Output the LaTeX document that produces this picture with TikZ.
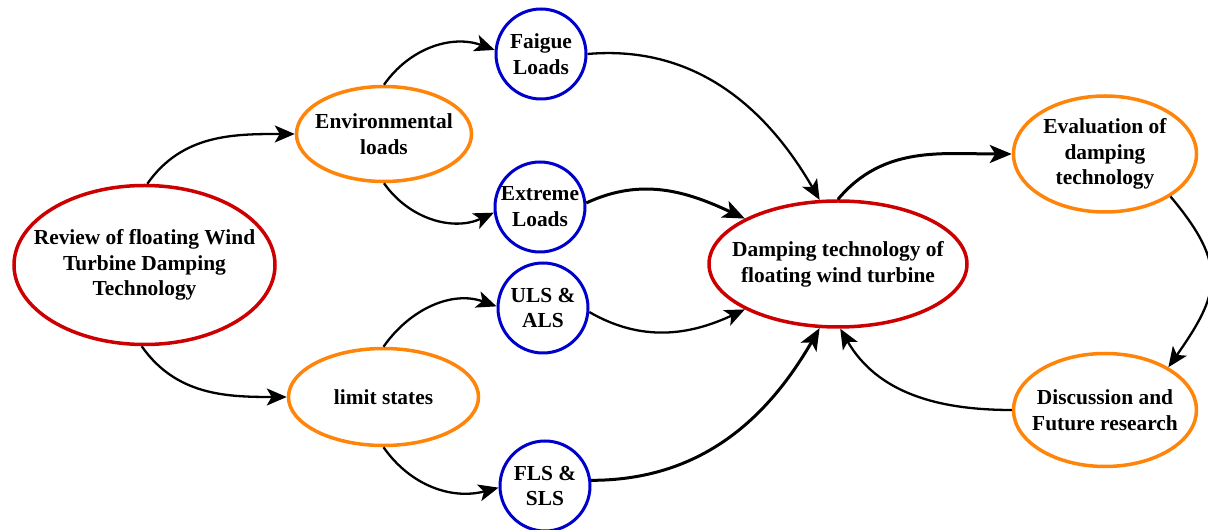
\documentclass[tikz,border=0pt]{standalone}
\usepackage{fontspec}
\setmainfont{Liberation Serif}
\usetikzlibrary{arrows.meta, shapes.geometric}
\definecolor{ringred}{RGB}{204,0,0}
\definecolor{ringorange}{RGB}{255,133,10}
\definecolor{ringblue}{RGB}{0,0,204}

\begin{document}
\begin{tikzpicture}[x=1pt, y=1pt,
    font=\bfseries\fontsize{21.4}{25.8}\selectfont]
  \tikzset{
    core/.style={ellipse, draw=ringred, line width=3.5pt,
      inner sep=-40pt, align=center},
    topic/.style={ellipse, draw=ringorange, line width=3.5pt,
      inner sep=-40pt, align=center},
    load/.style={circle, draw=ringblue, line width=3pt,
      inner sep=-5pt, minimum size=90pt, align=center},
    link/.style={-{Stealth[length=20pt, width=17pt, inset=5pt]},
      line width=2.3pt},
    heavy/.style={-{Stealth[length=22pt, width=18pt, inset=5.5pt]},
      line width=3pt},
  }
  \useasboundingbox (0,0) rectangle (1208,530);

  \node[core, minimum width=261pt, minimum height=159pt] (rev) at (144.5,265)
    {Review of floating Wind\\Turbine Damping\\Technology};
  \node[topic, minimum width=175pt, minimum height=95pt] (env) at (384,396)
    {Environmental\\loads};
  \node[topic, minimum width=190pt, minimum height=97pt] (lim) at (383.5,133)
    {limit states};

  \node[load] (fat) at (541,476) {Faigue\\Loads};
  \node[load] (ext) at (540,323) {Extreme\\Loads};
  \node[load] (uls) at (543,222) {ULS \&\\ALS};
  \node[load] (fls) at (545,44) {FLS \&\\SLS};

  \node[core, minimum width=258pt, minimum height=126pt] (dmp) at (838,266)
    {Damping technology of\\floating wind turbine};
  \node[topic, minimum width=183pt, minimum height=116pt] (eva) at (1105,376)
    {Evaluation of\\damping\\technology};
  \node[topic, minimum width=183pt, minimum height=113pt] (dis) at (1105,120)
    {Discussion and\\Future research};

  % review branches
  \draw[link] (rev.88) to[out=55, in=180] (env.west);
  \draw[link] (rev.268) to[out=-55, in=180] (lim.west);
  \draw[link] (env.90) to[out=55, in=160] (fat.175);
  \draw[link] (env.270) to[out=-55, in=205] (ext.187);
  \draw[link] (lim.90) to[out=55, in=160] (uls.178);
  \draw[link] (lim.270) to[out=-55, in=195] (fls.182);

  % into damping technology
  \draw[link] (fat.0) to[out=5, in=120] (dmp.106);
  \draw[heavy] (ext.5) to[out=25, in=155] (dmp.154);
  \draw[link] (uls.355) to[out=-30, in=205] (dmp.206);
  \draw[heavy] (fls.7) to[out=0, in=240] (dmp.254);

  % evaluation loop
  \draw[heavy] (dmp.90) to[out=50, in=180] (eva.west);
  \draw[link] (eva.327) to[out=-50, in=55, looseness=1.35] (dis.34);
  \draw[link] (dis.west) to[out=180, in=-60] (dmp.272);
\end{tikzpicture}
\end{document}
